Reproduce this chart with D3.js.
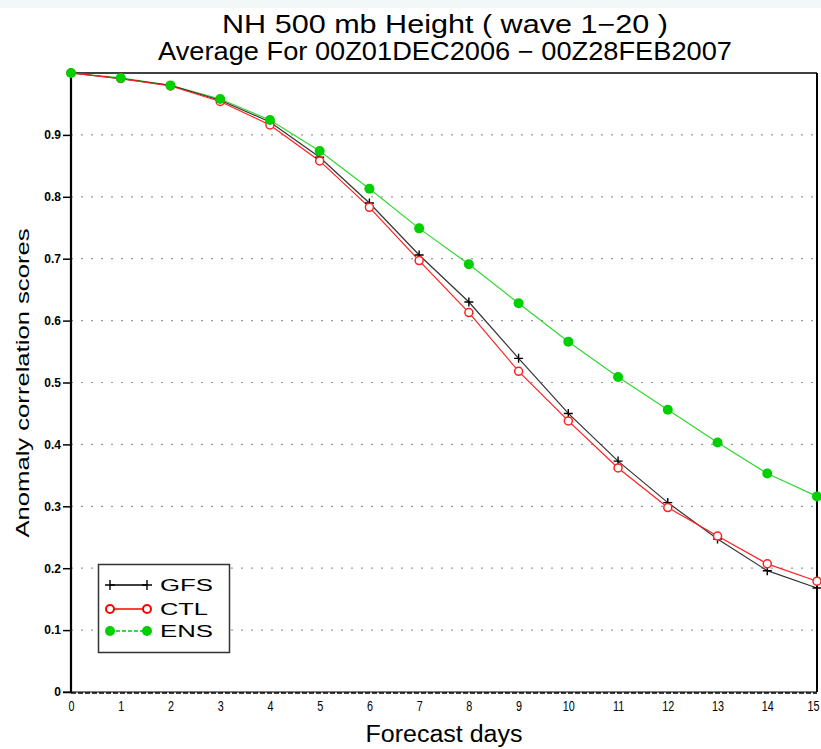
<!DOCTYPE html>
<html>
<head>
<meta charset="utf-8">
<script src="https://cdn.jsdelivr.net/npm/d3@7/dist/d3.min.js"></script>
<style>
  html, body { margin: 0; padding: 0; background: #ffffff; }
  svg { display: block; }
</style>
</head>
<body>
<svg id="chart" width="821" height="749"></svg>
<script>
// Forecast lead time (days) and anomaly correlation scores per model
const days = [0, 1, 2, 3, 4, 5, 6, 7, 8, 9, 10, 11, 12, 13, 14, 15];
const gfs = [1.0, 0.991, 0.980, 0.956, 0.921, 0.864, 0.790, 0.706, 0.630, 0.539, 0.450, 0.373, 0.306, 0.247, 0.196, 0.168];
const ctl = [1.0, 0.991, 0.979, 0.954, 0.916, 0.858, 0.783, 0.697, 0.613, 0.518, 0.438, 0.362, 0.298, 0.252, 0.207, 0.179];
const ens = [1.0, 0.992, 0.980, 0.958, 0.924, 0.874, 0.813, 0.749, 0.691, 0.628, 0.566, 0.509, 0.456, 0.403, 0.353, 0.316];
const yTicks = [0, 0.1, 0.2, 0.3, 0.4, 0.5, 0.6, 0.7, 0.8, 0.9];
const yTickLabels = ["0", "0.1", "0.2", "0.3", "0.4", "0.5", "0.6", "0.7", "0.8", "0.9"];
const titleLines = ["NH 500 mb Height ( wave 1\u221220 )", "Average For 00Z01DEC2006 \u2212 00Z28FEB2007"];
const seriesNames = ["GFS", "CTL", "ENS"];

(function () {
  const svg = d3.select("#chart");
  const W = 821;
  const pLeft = 71, pRight = 817, pTop = 73, pBottom = 692;

  const x = d3.scaleLinear().domain([0, 15]).range([pLeft, pRight]);
  const y = d3.scaleLinear().domain([0, 1]).range([pBottom, pTop]);

  // light band across the top
  svg.append("rect").attr("x", 0).attr("y", 0).attr("width", W).attr("height", 8).attr("fill", "#f2f7f7");

  // titles
  const titleFont = "'Liberation Sans', Arial, sans-serif";
  svg.append("text").attr("x", 445).attr("y", 33).attr("text-anchor", "middle")
    .attr("font-family", titleFont).attr("font-size", 25).attr("fill", "#000")
    .attr("textLength", 446).attr("lengthAdjust", "spacingAndGlyphs").text(titleLines[0]);
  svg.append("text").attr("x", 445).attr("y", 60).attr("text-anchor", "middle")
    .attr("font-family", titleFont).attr("font-size", 25).attr("fill", "#000")
    .attr("textLength", 574).attr("lengthAdjust", "spacingAndGlyphs").text(titleLines[1]);

  // horizontal dotted grid
  svg.append("g").selectAll("line").data(yTicks.filter(d => d > 0)).join("line")
    .attr("x1", pLeft).attr("x2", pRight)
    .attr("y1", d => y(d)).attr("y2", d => y(d))
    .attr("stroke", "#999").attr("stroke-width", 1.2).attr("stroke-dasharray", "2,8");

  // y axis with bold tick labels
  const yAxis = d3.axisLeft(y).tickValues(yTicks).tickSize(8).tickPadding(2)
    .tickFormat((d, i) => yTickLabels[i]);
  const gy = svg.append("g").attr("transform", `translate(${pLeft},0)`).call(yAxis);
  gy.select(".domain").remove();
  gy.selectAll(".tick line").attr("stroke", "#000").attr("stroke-width", 1.5);
  gy.selectAll(".tick text").attr("font-family", "'Liberation Sans', Arial, sans-serif")
    .attr("font-weight", "bold").attr("font-size", 12).attr("fill", "#000");

  // x axis labels (no tick marks), narrow digits
  const xAxis = d3.axisBottom(x).tickValues(days).tickSize(0).tickPadding(0).tickFormat(d3.format("d"));
  const gx = svg.append("g").attr("transform", `translate(0,${pBottom})`).call(xAxis);
  gx.select(".domain").remove();
  gx.selectAll(".tick text")
    .attr("font-family", "'Liberation Sans', Arial, sans-serif")
    .attr("font-size", 15).attr("fill", "#000")
    .attr("y", 0).attr("dy", "0").attr("transform", d => `translate(${d === 15 ? -4 : 0},19) scale(0.72,1)`);

  // frame: left axis, top and right borders, dashed bottom
  svg.append("line").attr("x1", pLeft).attr("x2", pLeft).attr("y1", pTop).attr("y2", pBottom + 1)
    .attr("stroke", "#000").attr("stroke-width", 2.2);
  svg.append("line").attr("x1", pLeft).attr("x2", pRight).attr("y1", pTop).attr("y2", pTop)
    .attr("stroke", "#000").attr("stroke-width", 1.5);
  svg.append("line").attr("x1", pRight).attr("x2", pRight).attr("y1", pTop).attr("y2", pBottom)
    .attr("stroke", "#000").attr("stroke-width", 2);
  svg.append("line").attr("x1", pLeft - 8).attr("x2", pRight).attr("y1", pBottom).attr("y2", pBottom)
    .attr("stroke", "#000").attr("stroke-width", 1.2);
  svg.append("line").attr("x1", pLeft).attr("x2", pRight).attr("y1", pBottom + 1).attr("y2", pBottom + 1)
    .attr("stroke", "#000").attr("stroke-width", 1.5).attr("stroke-dasharray", "5,2");

  // axis titles
  svg.append("text").attr("x", 444).attr("y", 742).attr("text-anchor", "middle")
    .attr("font-family", titleFont).attr("font-size", 23).attr("fill", "#000")
    .attr("textLength", 157).attr("lengthAdjust", "spacingAndGlyphs").text("Forecast days");
  svg.append("text").attr("transform", "translate(29,383) rotate(-90)").attr("text-anchor", "middle")
    .attr("font-family", "'Liberation Sans', Arial, sans-serif").attr("font-size", 19).attr("fill", "#000")
    .attr("textLength", 309).attr("lengthAdjust", "spacingAndGlyphs")
    .text("Anomaly correlation scores");

  // series lines and markers
  const line = d3.line().x((d, i) => x(days[i])).y(d => y(d));
  const plot = svg.append("g");

  plot.append("path").datum(ens).attr("d", line).attr("fill", "none")
    .attr("stroke", "#30d830").attr("stroke-width", 1.2);
  plot.append("path").datum(gfs).attr("d", line).attr("fill", "none")
    .attr("stroke", "#333").attr("stroke-width", 1.2);
  plot.append("path").datum(ctl).attr("d", line).attr("fill", "none")
    .attr("stroke", "#ff2020").attr("stroke-width", 1.2);

  function drawPlus(g, cx, cy, s) {
    g.append("path").attr("d", `M${cx - s},${cy}H${cx + s}M${cx},${cy - s}V${cy + s}`)
      .attr("stroke", "#000").attr("stroke-width", 1.4).attr("fill", "none");
  }
  gfs.forEach((v, i) => drawPlus(plot, x(days[i]), y(v), 4.5));
  plot.append("g").selectAll("circle").data(ctl).join("circle")
    .attr("cx", (d, i) => x(days[i])).attr("cy", d => y(d)).attr("r", 4)
    .attr("fill", "#fff").attr("stroke", "#ff2020").attr("stroke-width", 1.5);
  plot.append("g").selectAll("circle").data(ens).join("circle")
    .attr("cx", (d, i) => x(days[i])).attr("cy", d => y(d)).attr("r", 5)
    .attr("fill", "#00d000");

  // legend
  const lg = svg.append("g");
  lg.append("rect").attr("x", 98.5).attr("y", 564.5).attr("width", 131).attr("height", 88)
    .attr("fill", "#fff").attr("stroke", "#333").attr("stroke-width", 1.5);
  const ly = [585, 609, 631];
  const lx1 = 110, lx2 = 147;
  lg.append("line").attr("x1", lx1).attr("x2", lx2).attr("y1", ly[0]).attr("y2", ly[0]).attr("stroke", "#000").attr("stroke-width", 1.5);
  drawPlus(lg, lx1, ly[0], 5); drawPlus(lg, lx2, ly[0], 5);
  lg.append("line").attr("x1", lx1).attr("x2", lx2).attr("y1", ly[1]).attr("y2", ly[1]).attr("stroke", "#ff0000").attr("stroke-width", 1.5);
  [lx1, lx2].forEach(cx => lg.append("circle").attr("cx", cx).attr("cy", ly[1]).attr("r", 4)
    .attr("fill", "#fff").attr("stroke", "#ff0000").attr("stroke-width", 2));
  lg.append("line").attr("x1", lx1).attr("x2", lx2).attr("y1", ly[2]).attr("y2", ly[2]).attr("stroke", "#00c800")
    .attr("stroke-width", 1.5).attr("stroke-dasharray", "4,2");
  [lx1, lx2].forEach(cx => lg.append("circle").attr("cx", cx).attr("cy", ly[2]).attr("r", 5).attr("fill", "#00d000"));
  const legendWidths = [53, 48, 53];
  seriesNames.forEach((name, i) => {
    lg.append("text").attr("x", 160).attr("y", ly[i] + 6).attr("font-family", "'Liberation Sans', Arial, sans-serif")
      .attr("font-size", 16).attr("fill", "#000")
      .attr("textLength", legendWidths[i]).attr("lengthAdjust", "spacingAndGlyphs").text(name);
  });
})();
</script>
</body>
</html>
